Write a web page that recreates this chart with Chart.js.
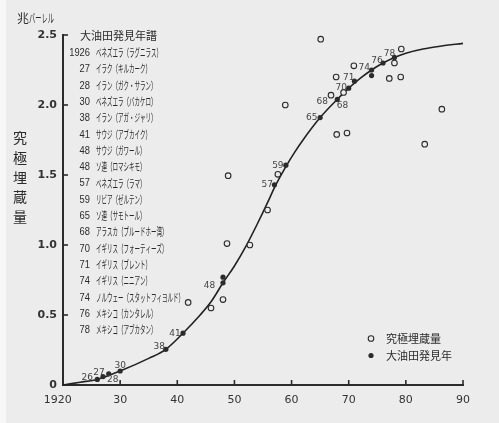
<!DOCTYPE html>
<html>
<head>
<meta charset="utf-8">
<script src="https://cdn.jsdelivr.net/npm/chart.js@4.4.1/dist/chart.umd.min.js"></script>
<style>
  html, body { margin: 0; padding: 0; background: #ececec; overflow: hidden; }
  #wrap { width: 499px; height: 423px; }
  canvas { display: block; }
</style>
</head>
<body>
<div id="wrap"><canvas id="chart" width="499" height="423"></canvas></div>
<script>
// 大油田発見年 (filled dots on the curve)
const discYears  = [1926, 1927, 1928, 1930, 1938, 1941, 1948, 1948, 1957, 1959, 1965, 1968, 1970, 1971, 1974, 1974, 1976, 1978];
const discValues = [0.04, 0.06, 0.08, 0.10, 0.255, 0.37, 0.73, 0.77, 1.43, 1.57, 1.91, 2.04, 2.12, 2.17, 2.25, 2.21, 2.30, 2.34];
const discLabels = ['26', '27', '28', '30', '38', '41', '48', '', '57', '59', '65', '68', '70', '71', '74', '', '76', '78'];

// 究極埋蔵量 (open circles)
const estYears  = [1941.9, 1945.9, 1948, 1948.7, 1952.7, 1955.8, 1948.9, 1957.6, 1958.9, 1965.1, 1967.9, 1969.7, 1966.9, 1969.1, 1967.8, 1970.9, 1977.1, 1979.1, 1978, 1979.2, 1980.1, 1986.3, 1983.3];
const estValues = [0.59, 0.55, 0.61, 1.01, 1.00, 1.25, 1.495, 1.505, 2.00, 2.47, 1.79, 1.80, 2.07, 2.09, 2.20, 2.28, 2.19, 2.20, 2.30, 2.40, 2.57, 1.97, 1.72];

// trend curve
const curveYears  = [1920, 1923, 1926, 1930, 1935, 1938, 1941, 1944, 1946, 1948, 1950, 1952, 1954, 1956, 1957, 1959, 1960.5, 1962, 1965, 1968, 1970, 1972, 1974, 1976, 1978, 1980, 1983, 1986, 1990];
const curveValues = [0, 0.02, 0.04, 0.10, 0.19, 0.255, 0.37, 0.50, 0.60, 0.73, 0.85, 0.99, 1.15, 1.32, 1.41, 1.56, 1.66, 1.75, 1.91, 2.04, 2.12, 2.19, 2.25, 2.30, 2.34, 2.37, 2.40, 2.42, 2.44];

const xTicks = [1920, 1930, 1940, 1950, 1960, 1970, 1980, 1990];
const yTicks = [0, 0.5, 1.0, 1.5, 2.0, 2.5];

// 大油田発見年譜
const listTitle = '大油田発見年譜';
const listYears = ['1926', '27', '28', '30', '38', '41', '48', '48', '57', '59', '65', '68', '70', '71', '74', '74', '76', '78'];
const listNames = [
  'ベネズエラ（ラグニラス）', 'イラク（キルカーク）', 'イラン（ガク・サラン）', 'ベネズエラ（バカケロ）',
  'イラン（アガ・ジャリ）', 'サウジ（アブカイク）', 'サウジ（ガワール）', 'ソ連（ロマシキモ）',
  'ベネズエラ（ラマ）', 'リビア（ゼルテン）', 'ソ連（サモトール）', 'アラスカ（プルードホー湾）',
  'イギリス（フォーティーズ）', 'イギリス（ブレント）', 'イギリス（ニニアン）', 'ノルウェー（スタットフィヨルド）',
  'メキシコ（カンタレル）', 'メキシコ（アブカタン）'
];

// label centre offsets (px) from each discovery dot
const labelOffsets = [[-10, -2], [-4, -4], [4, 6], [0, -5.5], [-6.7, -3], [-8, 0], [-13.5, 3], [0, 0], [-7.3, 0], [-8, 0], [-8.3, 0], [-15, 2], [-7.5, -1], [-5.7, -3.4], [-7.4, -2], [0, 0], [-6, -2.7], [-5, -3.6]];
// extra label under an estimate point
const extraLabel = { year: 1969.1, value: 2.09, text: '68' };

const ink = '#2b2b2b';
const cjk = '"Noto Sans CJK JP", sans-serif';

function makePoints(xs, ys) {
    return xs.map((x, i) => ({ x: x, y: ys[i] }));
}

function squeezeText(ctx, text, x, y, sx) {
    ctx.save();
    ctx.translate(x, y);
    ctx.scale(sx, 1);
    ctx.fillText(text, 0, 0);
    ctx.restore();
}

const decor = {
    id: 'decor',
    beforeDraw(chart) {
        const ctx = chart.ctx;
        ctx.save();
        ctx.fillStyle = '#ececec';
        ctx.fillRect(0, 0, chart.width, chart.height);
        ctx.fillStyle = '#f7f7f7';
        ctx.fillRect(0, 0, 6, chart.height);
        ctx.restore();
    },
    afterDraw(chart) {
        const ctx = chart.ctx;
        const xs = chart.scales.x;
        const ys = chart.scales.y;
        ctx.save();
        ctx.strokeStyle = ink;
        ctx.lineWidth = 1.6;

        // inward tick marks
        yTicks.forEach(v => {
            if (v === 0) return;
            const py = ys.getPixelForValue(v);
            ctx.beginPath();
            ctx.moveTo(xs.left, py);
            ctx.lineTo(xs.left + 5, py);
            ctx.stroke();
        });
        xTicks.forEach(v => {
            if (v === 1920) return;
            const px = xs.getPixelForValue(v);
            ctx.beginPath();
            ctx.moveTo(px, ys.bottom);
            ctx.lineTo(px, ys.bottom - 5);
            ctx.stroke();
        });

        ctx.fillStyle = ink;
        ctx.textBaseline = 'middle';

        // unit
        ctx.font = '12px ' + cjk;
        ctx.textAlign = 'left';
        ctx.fillText('兆', 17, 18);
        squeezeText(ctx, 'バーレル', 29, 18, 0.52);

        // vertical axis title
        ctx.font = '14px ' + cjk;
        ctx.textAlign = 'center';
        '究極埋蔵量'.split('').forEach((ch, i) => {
            ctx.fillText(ch, 20, 138 + i * 19.7);
        });

        // discovery list
        ctx.font = '11px ' + cjk;
        ctx.textAlign = 'left';
        ctx.fillText(listTitle, 80, 36);
        listYears.forEach((yr, i) => {
            const ly = 53 + i * 16.3;
            ctx.font = '11px "Liberation Sans", sans-serif';
            ctx.textAlign = 'right';
            squeezeText(ctx, yr, 90, ly, 0.85);
            ctx.font = '11px ' + cjk;
            ctx.textAlign = 'left';
            squeezeText(ctx, listNames[i], 96, ly, 0.5);
        });

        // point labels
        ctx.font = '9px "DejaVu Sans", sans-serif';
        ctx.fillStyle = '#444';
        ctx.textAlign = 'center';
        discYears.forEach((yr, i) => {
            if (!discLabels[i]) return;
            const px = xs.getPixelForValue(yr);
            const py = ys.getPixelForValue(discValues[i]);
            const off = labelOffsets[i];
            ctx.fillText(discLabels[i], px + off[0], py + off[1]);
        });
        ctx.fillText(extraLabel.text, xs.getPixelForValue(extraLabel.year) - 1, ys.getPixelForValue(extraLabel.value) + 13);

        // legend
        ctx.fillStyle = ink;
        ctx.lineWidth = 1.1;
        ctx.beginPath();
        ctx.arc(371, 338.5, 2.8, 0, Math.PI * 2);
        ctx.stroke();
        ctx.beginPath();
        ctx.arc(371, 355.5, 2.6, 0, Math.PI * 2);
        ctx.fill();
        ctx.font = '11px ' + cjk;
        ctx.textAlign = 'left';
        ctx.fillText('究極埋蔵量', 386, 338.5);
        ctx.fillText('大油田発見年', 386, 355.5);
        ctx.restore();
    }
};

new Chart(document.getElementById('chart'), {
    type: 'scatter',
    data: {
        datasets: [
            {
                label: '大油田発見年',
                data: makePoints(discYears, discValues),
                pointStyle: 'circle',
                pointRadius: 2.6,
                backgroundColor: ink,
                borderColor: ink,
                borderWidth: 0,
                clip: false
            },
            {
                label: '究極埋蔵量',
                data: makePoints(estYears, estValues),
                pointStyle: 'circle',
                pointRadius: 2.8,
                backgroundColor: '#ececec',
                borderColor: ink,
                borderWidth: 1.1,
                clip: false
            },
            {
                type: 'line',
                label: 'curve',
                data: makePoints(curveYears, curveValues),
                showLine: true,
                pointRadius: 0,
                borderColor: '#222',
                borderWidth: 1.6,
                cubicInterpolationMode: 'monotone',
                fill: false,
                clip: false
            }
        ]
    },
    options: {
        responsive: false,
        animation: false,
        devicePixelRatio: 1,
        layout: { padding: { left: 0, top: 35, right: 36, bottom: 0 } },
        plugins: {
            legend: { display: false },
            tooltip: { enabled: false }
        },
        scales: {
            x: {
                type: 'linear',
                min: 1920,
                max: 1990,
                afterFit: s => { s.height = 38; },
                afterBuildTicks: s => { s.ticks = xTicks.map(v => ({ value: v })); },
                grid: { display: false, drawTicks: false },
                border: { display: true, color: ink, width: 2 },
                ticks: {
                    padding: 9,
                    color: '#333',
                    font: { family: 'DejaVu Sans', size: 11 },
                    maxRotation: 0,
                    autoSkip: false,
                    callback: v => v === 1920 ? '1920   ' : String(v % 100 === 0 ? 0 : v % 100)
                }
            },
            y: {
                type: 'linear',
                min: 0,
                max: 2.5,
                afterFit: s => { s.width = 63; },
                afterBuildTicks: s => { s.ticks = yTicks.map(v => ({ value: v })); },
                grid: { display: false, drawTicks: false },
                border: { display: true, color: ink, width: 2 },
                ticks: {
                    padding: 6,
                    color: '#333',
                    font: { family: 'DejaVu Sans', size: 11, weight: 'bold' },
                    callback: v => v === 0 ? '0' : v.toFixed(1)
                }
            }
        }
    },
    plugins: [decor]
});
</script>
</body>
</html>
